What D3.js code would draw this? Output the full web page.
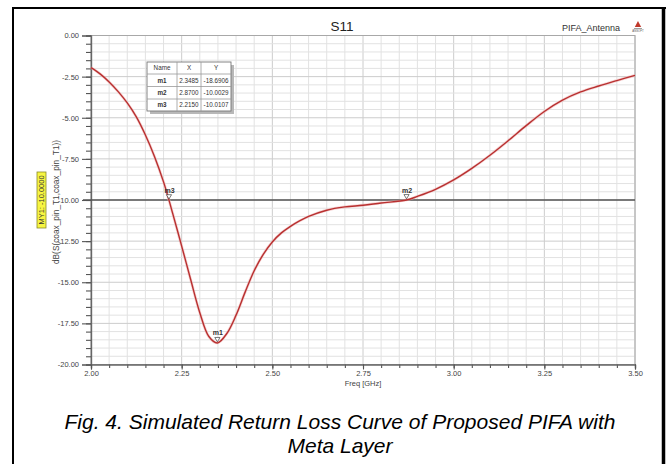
<!DOCTYPE html>
<html>
<head>
<meta charset="utf-8">
<script src="https://cdn.jsdelivr.net/npm/d3@7/dist/d3.min.js"></script>
<style>
  html, body { margin: 0; padding: 0; background: #fff; }
  svg { display: block; font-family: "Liberation Sans", Arial, sans-serif; }
</style>
</head>
<body>
<svg id="chart" width="666" height="464"></svg>
<script>
// Frequency sweep (GHz) and simulated S11 (dB)
const freqs = [2.000, 2.025, 2.050, 2.075, 2.100, 2.125, 2.150, 2.175, 2.200, 2.215,
  2.225, 2.250, 2.275, 2.300, 2.325, 2.3485, 2.375, 2.400, 2.425, 2.450,
  2.475, 2.500, 2.525, 2.550, 2.575, 2.600, 2.650, 2.700, 2.750, 2.800,
  2.870, 2.900, 2.950, 3.000, 3.050, 3.100, 3.150, 3.200, 3.250, 3.300,
  3.350, 3.400, 3.450, 3.500];
const s11 = [-1.95, -2.33, -2.82, -3.41, -4.10, -4.95, -6.05, -7.35, -8.90, -10.01,
  -10.80, -12.80, -14.85, -16.85, -18.30, -18.69, -18.10, -17.00, -15.60, -14.30,
  -13.30, -12.55, -12.00, -11.60, -11.27, -11.00, -10.62, -10.42, -10.32, -10.18,
  -10.00, -9.78, -9.35, -8.78, -8.08, -7.28, -6.40, -5.48, -4.62, -3.93,
  -3.43, -3.07, -2.74, -2.42];

// Markers
const markerNames = ["m1", "m2", "m3"];
const markerX = [2.3485, 2.8700, 2.2150];
const markerY = [-18.6906, -10.0029, -10.0107];

// Reference line
const refLevel = -10.0;
const refLabel = "MY1: -10.0000";

// Axis ticks
const xTicks = [2.00, 2.25, 2.50, 2.75, 3.00, 3.25, 3.50];
const yTicks = [0, -2.5, -5, -7.5, -10, -12.5, -15, -17.5, -20];

const titleText = "S11";
const projectText = "PIFA_Antenna";
const xLabel = "Freq [GHz]";
const yLabel = "dB(S(coax_pin_T1,coax_pin_T1))";
const captionLines = ["Fig. 4. Simulated Return Loss Curve of Proposed PIFA with", "Meta Layer"];

const svg = d3.select("#chart");
const x = d3.scaleLinear().domain([2, 3.5]).range([91, 635]);
const y = d3.scaleLinear().domain([0, -20]).range([35.5, 364.5]);

const fmt = v => v.toFixed(2);
const minorX = d3.range(0, 31).map(i => 2 + i * 0.05);
const minorY = d3.range(0, 41).map(i => -i * 0.5);

// Outer figure frame
svg.append("line").attr("x1", 13).attr("x2", 13).attr("y1", 7).attr("y2", 464)
  .attr("stroke", "#000").attr("stroke-width", 2);
svg.append("line").attr("x1", 12).attr("x2", 666).attr("y1", 8).attr("y2", 8)
  .attr("stroke", "#000").attr("stroke-width", 2);
svg.append("line").attr("x1", 663.5).attr("x2", 663.5).attr("y1", 7).attr("y2", 464)
  .attr("stroke", "#000").attr("stroke-width", 3.5);

// Grid
const grid = svg.append("g");
grid.selectAll("line.gx").data(minorX).join("line")
  .attr("x1", d => x(d)).attr("x2", d => x(d))
  .attr("y1", y(0)).attr("y2", y(-20))
  .attr("stroke", (d, i) => i % 5 === 0 ? "#cccccc" : "#e2e2e2")
  .attr("stroke-width", 1);
grid.selectAll("line.gy").data(minorY).join("line")
  .attr("x1", x(2)).attr("x2", x(3.5))
  .attr("y1", d => y(d)).attr("y2", d => y(d))
  .attr("stroke", (d, i) => i % 5 === 0 ? "#cccccc" : "#e2e2e2")
  .attr("stroke-width", 1);

// Plot frame
svg.append("rect").attr("x", x(2)).attr("y", y(0))
  .attr("width", x(3.5) - x(2)).attr("height", y(-20) - y(0))
  .attr("fill", "none").attr("stroke", "#a8a8a8").attr("stroke-width", 1);

// Y axis: minor then major ticks
const yMinor = svg.append("g").attr("transform", `translate(${x(2)},0)`)
  .call(d3.axisLeft(y).tickValues(minorY).tickSize(5).tickFormat(""));
const yMajor = svg.append("g").attr("transform", `translate(${x(2)},0)`)
  .call(d3.axisLeft(y).tickValues(yTicks).tickSize(9).tickPadding(3).tickFormat(fmt));
[yMinor, yMajor].forEach(g => {
  g.selectAll("path").attr("stroke", "#666").attr("stroke-width", 1.2);
  g.selectAll("line").attr("stroke", "#555").attr("stroke-width", 1.1);
});
yMajor.selectAll("text").attr("font-size", 7.5).attr("fill", "#444")
  .attr("font-family", "'Liberation Sans', Arial, sans-serif");

// X axis
const xMinor = svg.append("g").attr("transform", `translate(0,${y(-20)})`)
  .call(d3.axisBottom(x).tickValues(minorX).tickSize(3.5).tickFormat(""));
const xMajor = svg.append("g").attr("transform", `translate(0,${y(-20)})`)
  .call(d3.axisBottom(x).tickValues(xTicks).tickSize(5).tickPadding(1).tickFormat(fmt));
[xMinor, xMajor].forEach(g => {
  g.selectAll("path").attr("stroke", "#666").attr("stroke-width", 1.2);
  g.selectAll("line").attr("stroke", "#555").attr("stroke-width", 1.1);
});
xMajor.selectAll("text").attr("font-size", 7.5).attr("fill", "#444")
  .attr("font-family", "'Liberation Sans', Arial, sans-serif");

// Axis titles
svg.append("text").attr("x", 363).attr("y", 386).attr("text-anchor", "middle")
  .attr("font-size", 7.5).attr("fill", "#444").text(xLabel);
svg.append("text").attr("transform", `translate(59,202) rotate(-90)`)
  .attr("text-anchor", "middle").attr("font-size", 8.3).attr("fill", "#444").text(yLabel);

// Chart title and project name
svg.append("text").attr("x", 342).attr("y", 31).attr("text-anchor", "middle")
  .attr("font-size", 13.5).attr("fill", "#222").text(titleText);
svg.append("text").attr("x", 620).attr("y", 31).attr("text-anchor", "end")
  .attr("font-size", 9).attr("fill", "#333").text(projectText);

// Small vendor logo
const logo = svg.append("g").attr("transform", "translate(638,0)");
logo.append("path").attr("d", "M0,21 L3.2,27 L-3.2,27 Z").attr("fill", "#c0392b");
logo.append("line").attr("x1", -4).attr("x2", 4).attr("y1", 28.5).attr("y2", 28.5)
  .attr("stroke", "#888").attr("stroke-width", 0.8);
logo.append("text").attr("x", 0).attr("y", 32).attr("text-anchor", "middle")
  .attr("font-size", 2.8).attr("fill", "#555").text("ANSOFT");

// Reference line at -10 dB
svg.append("line").attr("x1", 83).attr("x2", x(3.5))
  .attr("y1", y(refLevel)).attr("y2", y(refLevel))
  .attr("stroke", "#555").attr("stroke-width", 1.4);

// Reference label
const ref = svg.append("g").attr("transform", "translate(41.5,200) rotate(-90)");
ref.append("rect").attr("x", -28).attr("y", -4.5).attr("width", 56).attr("height", 9)
  .attr("fill", "#f7f542").attr("stroke", "#8a8a2a").attr("stroke-width", 0.8);
ref.append("text").attr("x", 0).attr("y", 2.7).attr("text-anchor", "middle")
  .attr("font-size", 7.5).attr("fill", "#333").text(refLabel);

// S11 curve
const pts = freqs.map((f, i) => [f, s11[i]]);
const line = d3.line().x(d => x(d[0])).y(d => y(d[1])).curve(d3.curveCatmullRom.alpha(0.5));
svg.append("path").attr("d", line(pts)).attr("fill", "none")
  .attr("stroke", "#f0b8b8").attr("stroke-width", 2.8).attr("opacity", 0.6);
svg.append("path").attr("d", line(pts)).attr("fill", "none")
  .attr("stroke", "#b83030").attr("stroke-width", 1.4);

// Marker glyphs
markerNames.forEach((name, i) => {
  const px = x(markerX[i]), py = y(markerY[i]);
  const g = svg.append("g");
  g.append("path").attr("d", `M${px - 2.6},${py - 5.5} L${px + 2.6},${py - 5.5} L${px},${py - 1.2} Z`)
    .attr("fill", "#fff").attr("stroke", "#444").attr("stroke-width", 0.7);
  g.append("text").attr("x", px + 0.5).attr("y", py - 7.5).attr("text-anchor", "middle")
    .attr("font-size", 7).attr("font-weight", "bold").attr("fill", "#333").text(name);
});

// Marker table
const tb = { x: 147, y: 62, w: 84, rowH: [12, 12.5, 12.5, 12], cols: [147, 177, 201, 231] };
const tableH = d3.sum(tb.rowH);
svg.append("rect").attr("x", tb.x + 3).attr("y", tb.y + 3).attr("width", tb.w).attr("height", tableH)
  .attr("fill", "#b8b8b8");
svg.append("rect").attr("x", tb.x).attr("y", tb.y).attr("width", tb.w).attr("height", tableH)
  .attr("fill", "#fff").attr("stroke", "#777").attr("stroke-width", 0.9);
const header = ["Name", "X", "Y"];
const rows = [header].concat(markerNames.map((n, i) => [n, markerX[i].toFixed(4), markerY[i].toFixed(4)]));
let ry = tb.y;
rows.forEach((r, ri) => {
  if (ri > 0) {
    svg.append("line").attr("x1", tb.x).attr("x2", tb.x + tb.w).attr("y1", ry).attr("y2", ry)
      .attr("stroke", "#999").attr("stroke-width", 0.8);
  }
  r.forEach((cell, ci) => {
    const cx = (tb.cols[ci] + tb.cols[ci + 1]) / 2;
    svg.append("text").attr("x", cx).attr("y", ry + tb.rowH[ri] / 2 + 2.3)
      .attr("text-anchor", "middle").attr("font-size", 6.3)
      .attr("font-weight", ri > 0 && ci === 0 ? "bold" : "normal")
      .attr("fill", "#333").text(cell);
  });
  ry += tb.rowH[ri];
});
[tb.cols[1], tb.cols[2]].forEach(cx => {
  svg.append("line").attr("x1", cx).attr("x2", cx).attr("y1", tb.y).attr("y2", tb.y + tableH)
    .attr("stroke", "#999").attr("stroke-width", 0.8);
});

// Figure caption
captionLines.forEach((t, i) => {
  svg.append("text").attr("x", 340).attr("y", 429 + i * 24).attr("text-anchor", "middle")
    .attr("font-size", 21).attr("font-style", "italic").attr("fill", "#000")
    .attr("font-family", "'Liberation Sans', Arial, sans-serif").text(t);
});
</script>
</body>
</html>
